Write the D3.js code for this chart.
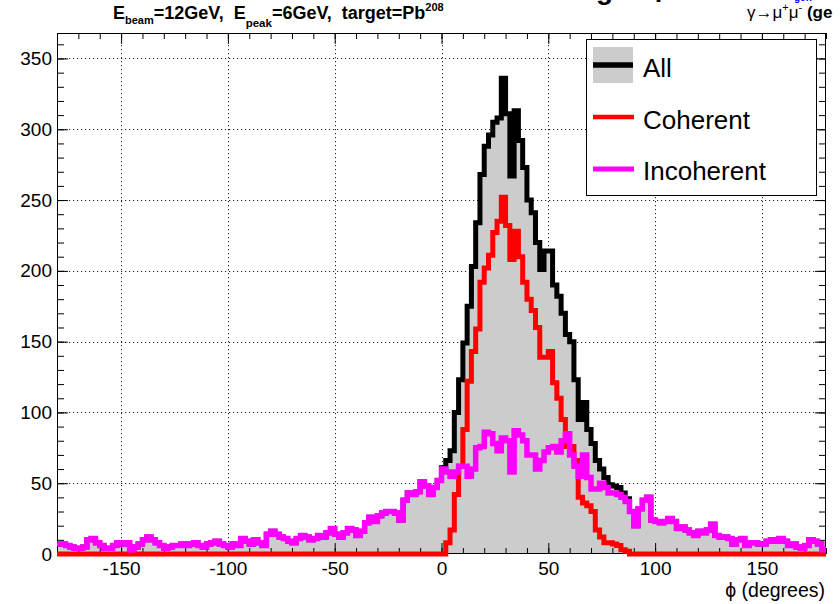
<!DOCTYPE html>
<html><head><meta charset="utf-8">
<script src="https://cdn.jsdelivr.net/npm/d3@7"></script>
<style>
body{margin:0;background:#fff}
svg{display:block}
text{font-family:"Liberation Sans",Arial,Helvetica,sans-serif;white-space:pre}
</style>
</head><body><svg id="c" width="840" height="604"></svg>
<script>
// ---- data ----
const phiRange = [-180, 180];
const nBins = 180;
const incoherent = [
 7,7,6,5,4,4,5,10,11,8,
 6,4,4,6,8,7,8,3,5,7,
 10,12,10,8,6,4,5,6,6,7,
 6,7,8,6,5,7,8,9,7,6,
 5,7,6,11,9,7,10,8,6,14,
 16,14,12,11,9,8,11,13,12,10,
 11,13,12,15,18,14,12,15,18,17,
 13,16,22,26,23,27,29,30,30,29,
 24,38,43,42,44,51,48,42,47,52,
 60,58,55,58,62,62,55,60,75,76,
 86,85,78,73,82,80,58,87,84,80,
 70,70,60,66,72,75,76,72,80,85,
 70,62,55,70,54,46,46,50,47,43,
 43,42,40,37,30,20,32,38,40,24,
 23,22,23,25,23,18,19,17,15,13,
 16,15,17,21,13,12,12,11,7,10,
 11,6,8,8,7,7,9,10,9,11,
 9,6,7,5,4,6,10,9,7,3];
const coherent = [
 0,0,0,0,0,0,0,0,0,0,
 0,0,0,0,0,0,0,0,0,0,
 0,0,0,0,0,0,0,0,0,0,
 0,0,0,0,0,0,0,0,0,0,
 0,0,0,0,0,0,0,0,0,0,
 0,0,0,0,0,0,0,0,0,0,
 0,0,0,0,0,0,0,0,0,0,
 0,0,0,0,0,0,0,0,0,0,
 0,0,0,0,0,0,0,0,0,0,
 0,8,17,42,62,88,122,143,159,192,
 202,211,227,235,252,232,208,228,210,192,
 180,172,160,139,139,143,121,110,95,76,
 76,66,40,36,34,30,17,12,8,8,
 7,6,3,2,0,0,0,0,0,0,
 0,0,0,0,0,0,0,0,0,0,
 0,0,0,0,0,0,0,0,0,0,
 0,0,0,0,0,0,0,0,0,0,
 0,0,0,0,0,0,0,0,0,0];
const all = [
 7,7,6,5,4,4,5,10,11,8,
 6,4,4,6,8,7,8,3,5,7,
 10,12,10,8,6,4,5,6,6,7,
 6,7,8,6,5,7,8,9,7,6,
 5,7,6,11,9,7,10,8,6,14,
 16,14,12,11,9,8,11,13,12,10,
 11,13,12,15,18,14,12,15,18,17,
 13,16,22,26,23,27,29,30,30,29,
 24,38,43,42,44,51,48,42,47,52,
 61,66,73,100,123,149,175,203,234,268,
 288,296,305,308,336,311,267,313,292,273,
 250,241,220,201,214,214,190,182,170,155,
 150,123,95,107,88,78,66,60,54,49,
 48,47,43,39,30,20,32,38,40,24,
 23,22,23,25,23,18,19,17,15,13,
 16,15,17,21,13,12,12,11,7,10,
 11,6,8,8,7,7,9,10,9,11,
 9,6,7,5,4,6,10,9,7,3];
const xTicks = [-150, -100, -50, 0, 50, 100, 150];
const yTicks = [0, 50, 100, 150, 200, 250, 300, 350];
const yMax = 368;
const legendLabels = ["All", "Coherent", "Incoherent"];
const xTitle = "\u03d5 (degrees)";

// ---- layout ----
const svg = d3.select("#c");
const L = 57, R = 826, T = 33, B = 554;
const x = d3.scaleLinear().domain(phiRange).range([L, R]);
const y = d3.scaleLinear().domain([0, yMax]).range([B, T]);
const bw = (phiRange[1] - phiRange[0]) / nBins;
const pts = arr => arr.map((v, i) => [phiRange[0] + i * bw, v]).concat([[phiRange[1], arr[arr.length - 1]]]);

svg.append("rect").attr("width", 840).attr("height", 604).attr("fill", "#fff");

// grid
const grid = svg.append("g").attr("stroke", "#222").attr("stroke-width", 1).attr("stroke-dasharray", "1.2,2.8");
xTicks.forEach(t => grid.append("line").attr("x1", Math.round(x(t)) + 0.5).attr("x2", Math.round(x(t)) + 0.5).attr("y1", T).attr("y2", B));
yTicks.filter(t => t > 0).forEach(t => grid.append("line").attr("x1", L).attr("x2", R).attr("y1", Math.round(y(t)) + 0.5).attr("y2", Math.round(y(t)) + 0.5));

// All: fill + line
const area = d3.area().curve(d3.curveStepAfter).x(d => x(d[0])).y0(y(0)).y1(d => y(d[1]));
const line = d3.line().curve(d3.curveStepAfter).x(d => x(d[0])).y(d => y(d[1]));
svg.append("path").attr("d", area(pts(all))).attr("fill", "#cccccc");
svg.append("path").attr("d", line(pts(all))).attr("fill", "none").attr("stroke", "#000").attr("stroke-width", 5);

// frame + axes
const ax = svg.append("g");
function axisG(gen, tx, ty) {
  const g = ax.append("g").attr("transform", `translate(${tx},${ty})`).call(gen);
  g.select(".domain").remove();
  g.selectAll("text").attr("font-family", '"Liberation Sans",Arial,sans-serif').attr("font-size", 19).attr("fill", "#000");
  g.selectAll("line").attr("stroke", "#000");
  return g;
}
const xMinor = d3.range(-180, 181, 10);
const yMinor = d3.range(0, yMax + 0.1, 10);
axisG(d3.axisBottom(x).tickValues(xTicks).tickSize(-11).tickPadding(8).tickFormat(d => d < 0 ? "-" + Math.abs(d) : d), 0, B);
axisG(d3.axisBottom(x).tickValues(xMinor).tickSize(-6).tickFormat(""), 0, B);
axisG(d3.axisTop(x).tickValues(xTicks).tickSize(-11).tickFormat(""), 0, T);
axisG(d3.axisTop(x).tickValues(xMinor).tickSize(-6).tickFormat(""), 0, T);
axisG(d3.axisLeft(y).tickValues(yTicks).tickSize(-11).tickPadding(5), L, 0);
axisG(d3.axisLeft(y).tickValues(yMinor).tickSize(-7).tickFormat(""), L, 0);
axisG(d3.axisRight(y).tickValues(yTicks).tickSize(-11).tickFormat(""), R, 0);
axisG(d3.axisRight(y).tickValues(yMinor).tickSize(-7).tickFormat(""), R, 0);
svg.append("rect").attr("x", L + 0.5).attr("y", T + 0.5).attr("width", R - L - 1).attr("height", B - T - 1)
  .attr("fill", "none").attr("stroke", "#000").attr("stroke-width", 1);

// Coherent / Incoherent
svg.append("path").attr("d", line(pts(coherent))).attr("fill", "none").attr("stroke", "#ff0000").attr("stroke-width", 5);
svg.append("path").attr("d", line(pts(incoherent))).attr("fill", "none").attr("stroke", "#ff00ff").attr("stroke-width", 5.5);

// legend
const lg = svg.append("g");
lg.append("rect").attr("x", 586.5).attr("y", 39.5).attr("width", 230).attr("height", 156).attr("fill", "#fff").attr("stroke", "#000");
lg.append("rect").attr("x", 593).attr("y", 47).attr("width", 40).attr("height", 36).attr("fill", "#cccccc");
lg.append("line").attr("x1", 593).attr("x2", 633).attr("y1", 65).attr("y2", 65).attr("stroke", "#000").attr("stroke-width", 5.5);
lg.append("line").attr("x1", 593).attr("x2", 634).attr("y1", 117).attr("y2", 117).attr("stroke", "#ff0000").attr("stroke-width", 4.5);
lg.append("line").attr("x1", 593).attr("x2", 634).attr("y1", 169).attr("y2", 169).attr("stroke", "#ff00ff").attr("stroke-width", 5);
[77, 129, 180].forEach((yy, i) => lg.append("text").attr("x", 643).attr("y", yy).attr("font-size", 26).text(legendLabels[i]));

// axis title
svg.append("text").attr("x", 825).attr("y", 597).attr("text-anchor", "end").attr("font-size", 19.5).text(xTitle);

// top-left title
const t1 = svg.append("text").attr("x", 113).attr("y", 19).attr("font-size", 18).attr("font-weight", "bold");
t1.append("tspan").text("E");
t1.append("tspan").attr("font-size", 11).attr("dy", 5).text("beam");
t1.append("tspan").attr("dy", -5).text("=12GeV,  E");
t1.append("tspan").attr("font-size", 11.5).attr("dy", 8).text("peak");
t1.append("tspan").attr("dy", -8).text("=6GeV,  target=Pb");
t1.append("tspan").attr("font-size", 11).attr("dy", -8).text("208");

// top-right fragments (clipped by the page top, as in the original)
svg.append("text").attr("x", 596).attr("y", -1).attr("font-size", 28).attr("font-weight", "bold").text("g");
svg.append("text").attr("x", 648).attr("y", -4).attr("font-size", 28).attr("font-weight", "bold").text("\u03d5");
svg.append("text").attr("x", 794).attr("y", 1).attr("font-size", 10).attr("font-weight", "bold").attr("fill", "#0000ff").text("gen");
const t2 = svg.append("text").attr("x", 747).attr("y", 18).attr("font-size", 17);
t2.append("tspan").text("\u03b3\u2192\u03bc");
t2.append("tspan").attr("font-size", 11).attr("dy", -7).text("+");
t2.append("tspan").attr("dy", 7).text("\u03bc");
t2.append("tspan").attr("font-size", 11).attr("dy", -7).text("-");
t2.append("tspan").attr("dy", 7).attr("font-weight", "bold").text(" (ge");
</script>
</body></html>
